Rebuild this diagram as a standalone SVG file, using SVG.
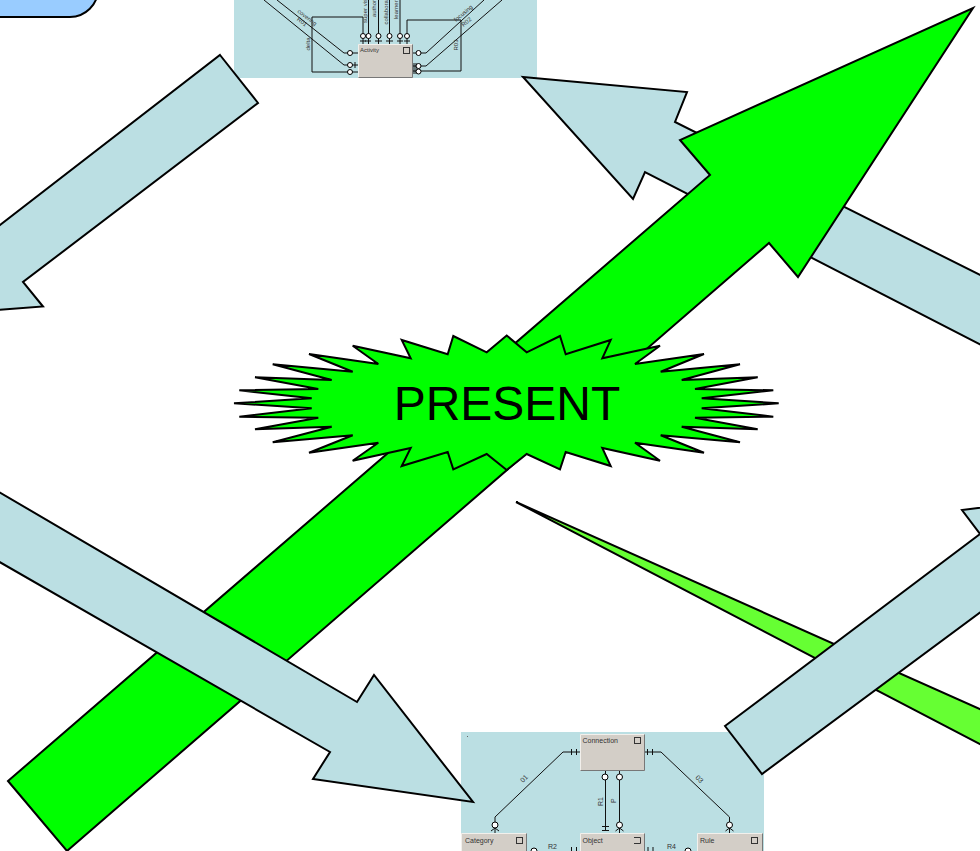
<svg xmlns="http://www.w3.org/2000/svg" width="980" height="851" viewBox="0 0 980 851">
<style>
.arrow{stroke:#000;stroke-width:2;stroke-linejoin:miter}
.blue{fill:#bbdfe3}
.green{fill:#00ff00}
.lime{fill:#66ff33}
.panel{fill:#bbdfe3}
.ent{fill:#d3cec7}
.hi{fill:none;stroke:#f2f0ec;stroke-width:1}
.lo{fill:none;stroke:#777;stroke-width:1}
.chk{fill:none;stroke:#333;stroke-width:1}
.ln{fill:none;stroke:#111;stroke-width:1}
.c{fill:#fff;stroke:#000;stroke-width:1}
.t{font-family:"Liberation Sans",Arial,sans-serif;font-size:7px;fill:#333}
.s{font-family:"Liberation Sans",Arial,sans-serif;font-size:6px;fill:#333}
</style>
<rect width="980" height="851" fill="#fff"/>
<g id="start-node"><rect x="-40" y="-60" width="138" height="77" rx="28" fill="#99ccff" stroke="#000" stroke-width="2"/></g>
<g id="panel-activity">
<rect class="panel" x="234" y="0" width="303" height="78"/>
<g class="connectors">
<path class="ln" d="M277 0L344 53H358M264 0L344 65H358M312 17V72H358M312 17H363V44M368.500 0V44M378.500 0V44M389.500 0V44M400 0V44M407 44V20H461V71H413M413 53H426L484 0M413 66H426L502 0"/>
<path class="ln" d="M360 41H366M365 41H371M375 41H382M386 41H393M397 41H403M404 41H410M355 62V68M414 63V74M416 63V74"/>
<circle class="c" cx="350" cy="53" r="2.500"/><circle class="c" cx="350" cy="65" r="2.500"/><circle class="c" cx="350" cy="72" r="2.500"/>
<circle class="c" cx="363" cy="36" r="2.500"/><circle class="c" cx="368.500" cy="36" r="2.500"/><circle class="c" cx="378.500" cy="36" r="2.500"/><circle class="c" cx="389.500" cy="36" r="2.500"/><circle class="c" cx="400" cy="36" r="2.500"/><circle class="c" cx="407" cy="36" r="2.500"/>
<circle class="c" cx="418.500" cy="53" r="2.500"/><circle class="c" cx="418.500" cy="66" r="2.500"/><circle class="c" cx="418.500" cy="71.500" r="2.500"/>
</g>
<rect class="ent" x="358" y="44" width="55" height="34"/>
<path class="hi" d="M358.500 78V44.500H412.500"/><path class="lo" d="M412.500 44.500V77.500H358.500"/>
<rect class="chk" x="403.500" y="47.500" width="6" height="6"/>
<text class="s" x="360" y="52">Activity</text>
<text class="s" transform="translate(297,12) rotate(38)">covering</text>
<text class="s" transform="translate(296.500,20) rotate(38)">R01</text>
<text class="s" transform="translate(310,50.500) rotate(-90)">delta</text>
<text class="s" transform="translate(366.500,23) rotate(-90)">super vis</text>
<text class="s" transform="translate(376,17) rotate(-90)">author</text>
<text class="s" transform="translate(388,24.500) rotate(-90)">collaborat</text>
<text class="s" transform="translate(398,19) rotate(-90)">learner</text>
<text class="s" transform="translate(456,22) rotate(-40)">focusing</text>
<text class="s" transform="translate(463.500,27) rotate(-40)">R02</text>
<text class="s" transform="translate(458,50.500) rotate(-90)">R03</text>
</g>
<g id="panel-connection">
<rect class="panel" x="461" y="732" width="303" height="119"/>
<rect x="467" y="736" width="1" height="1" fill="#666"/>
<g class="connectors">
<path class="ln" d="M580 752H563L495 817V822M645 752H661L729.500 817V822M605.500 771V830M619.500 771V822M495 828V833M619.500 828V833M729.500 828V833"/>
<path class="ln" d="M571.500 749V755M576.500 749V755M647.500 749V755M652.500 749V755M602 826.500H609M602 830.500H609M491 831L495 828L499 831M615.500 831L619.500 828L623.500 831M725.500 831L729.500 828L733.500 831"/>
<circle class="c" cx="605" cy="777" r="3"/><circle class="c" cx="619.500" cy="777" r="3"/><circle class="c" cx="495" cy="825" r="3"/><circle class="c" cx="619.500" cy="825" r="3"/><circle class="c" cx="729.500" cy="825" r="3"/>
</g>
<rect class="ent" x="580" y="734" width="65" height="37"/>
<path class="hi" d="M580.500 771V734.500H644.500"/><path class="lo" d="M644.500 734.500V770.500H580.500"/>
<rect class="chk" x="634.500" y="737.500" width="6" height="6"/>
<text class="t" x="582.500" y="743">Connection</text>
<rect class="ent" x="461" y="833" width="66" height="30"/>
<path class="hi" d="M461.500 851V833.500H526.500"/><path class="lo" d="M526.500 833.500V851"/>
<rect class="chk" x="516.500" y="837.500" width="6" height="6"/>
<text class="t" x="465" y="843">Category</text>
<rect class="ent" x="580" y="833" width="65" height="30"/>
<path class="hi" d="M580.500 851V833.500H644.500"/><path class="lo" d="M644.500 833.500V851"/>
<path class="chk" d="M634 837.500H640.500V843.500H634"/>
<text class="t" x="582.500" y="843">Object</text>
<rect class="ent" x="697" y="833" width="66" height="30"/>
<path class="hi" d="M697.500 851V833.500H762.500"/><path class="lo" d="M762.500 833.500V851"/>
<rect class="chk" x="751.500" y="837.500" width="6" height="6"/>
<text class="t" x="700" y="843">Rule</text>
<text class="t" x="548" y="849">R2</text>
<text class="t" x="667" y="849">R4</text>
<text class="t" transform="translate(523,783) rotate(-45)">01</text>
<text class="t" transform="translate(695,778) rotate(45)">03</text>
<text class="t" transform="translate(602.500,806) rotate(-90)">R1</text>
<text class="t" transform="translate(615.500,803) rotate(-90)">P</text>
<circle class="c" cx="534" cy="851" r="3"/><circle class="c" cx="688" cy="851" r="3"/>
<path class="ln" d="M571.500 847V851M576.500 847V851M648 847V851M653 847V851"/>
</g>
<g id="arrow-top-left"><polygon class="arrow blue" points="220,55 258,103 23,282 43,306.500 -40,313 -40,256"/></g>
<g id="arrow-top-right"><polygon class="arrow blue" points="523,77 687,92 675,122 1020,295 1020,365 645,172 633,199"/></g>
<g id="arrow-lime"><polygon class="arrow lime" points="516,502 1020,727 1020,765"/></g>
<g id="arrow-present"><polygon class="arrow green" points="8,781 710,175 680,140 973,8 798,277 769,243 67,851"/></g>
<g id="present">
<polygon class="arrow green" points="506.700,335.500 526.700,352.300 560,336 565.700,354.300 610.700,340 602.300,358.300 660,345.700 635,364 704,354 660.700,371.700 740,364.300 681.700,380 757.700,377.300 695,389 773.300,390.300 701.700,398.300 778.700,403.300 701.700,408.300 773.300,416.700 695,417.700 757.700,429.300 681.700,426.700 740,442.300 660.700,435.300 704,452.700 635,442.700 660,460.700 602.300,448 610.700,466 565.700,452 560,469.300 526.700,454 506.700,470 486.700,454 453.300,469.300 447.700,452 401.700,466 410.700,448 352.700,460.700 378.300,442.700 309,452.700 352.700,435.300 272.700,442.300 331.700,426.700 255,429.300 318.300,417.700 239.300,416.700 311.700,408.300 234,403.300 311.700,398.300 239.300,390.300 318.300,389 255,377.300 331.700,380 272.700,364.300 352.700,371.700 309,354 378.300,364 352.700,345.700 410.700,358.300 401.700,340 447.700,354.300 453.300,336 486.700,352.300"/>
<text x="507" y="420" text-anchor="middle" font-family="'Liberation Sans',Arial,sans-serif" font-size="48" fill="#000">PRESENT</text>
</g>
<g id="arrow-bottom-left"><polygon class="arrow blue" points="-30,475 357,702 374,675 473,802 313,779 330,752 -30,545"/></g>
<g id="arrow-bottom-right"><polygon class="arrow blue" points="725,726 980,534 962,510 1020,503 1020,583 762,774"/></g>
</svg>
